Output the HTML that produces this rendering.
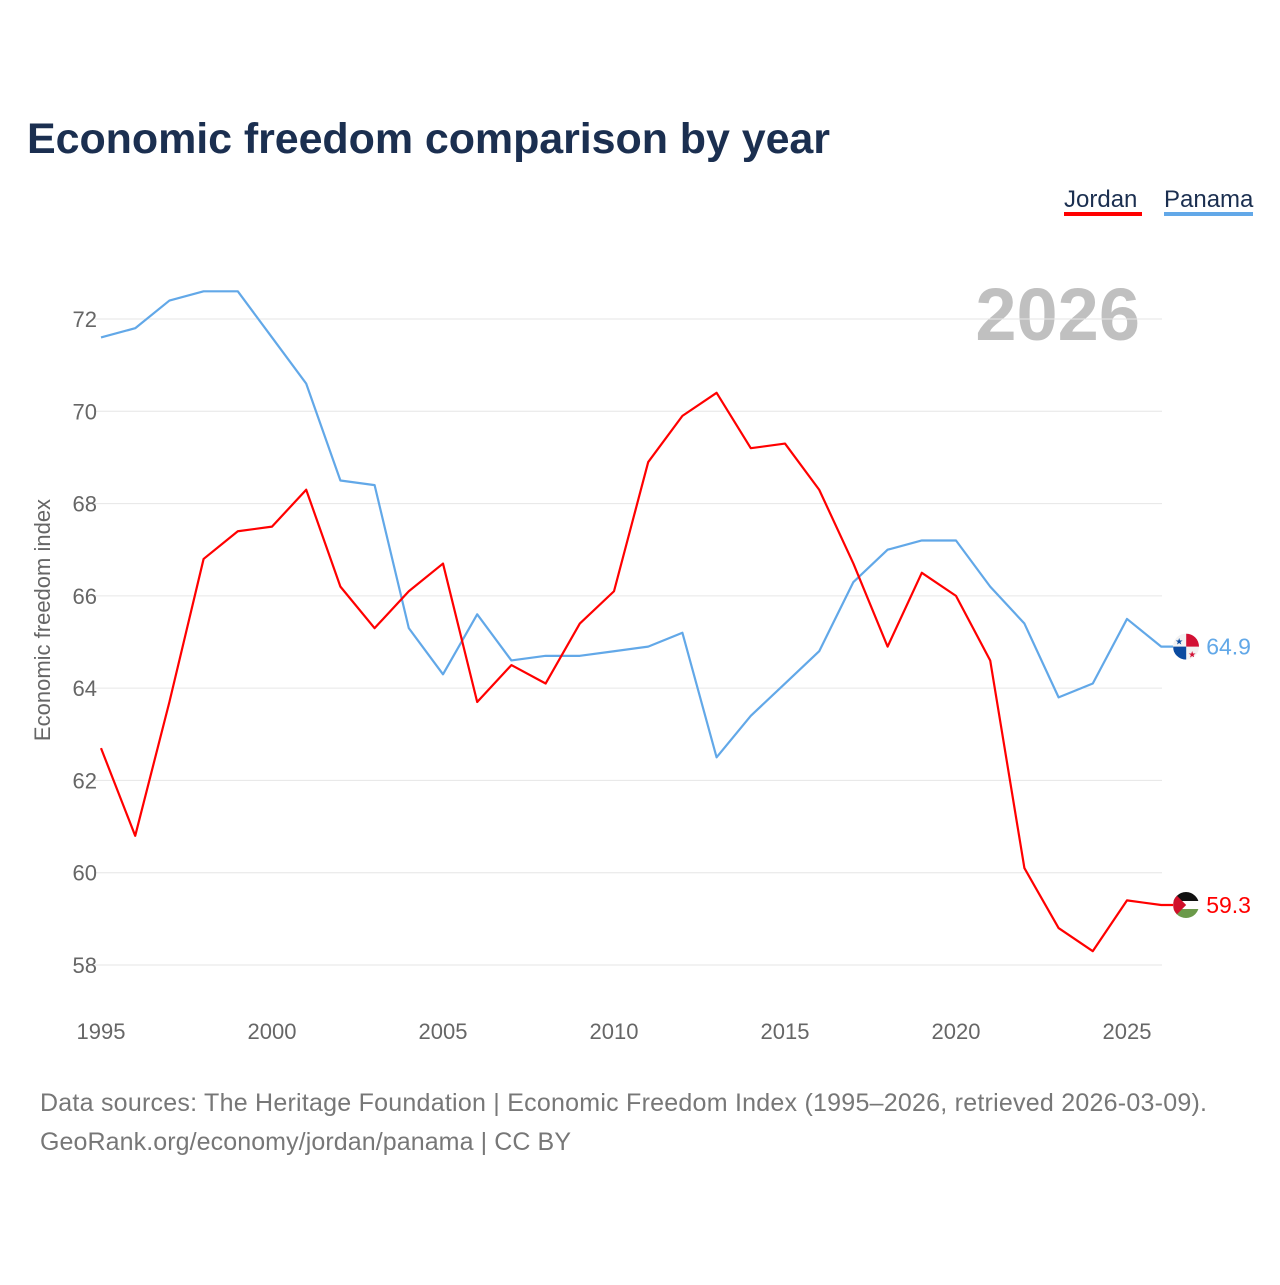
<!DOCTYPE html>
<html><head><meta charset="utf-8"><style>
body{margin:0;background:#fff;font-family:"Liberation Sans",sans-serif;}
</style></head><body>
<svg width="1280" height="1280" xmlns="http://www.w3.org/2000/svg">
<defs><clipPath id="cj"><circle cx="1186" cy="0" r="13"/></clipPath></defs>
<text x="27" y="153" font-size="43" font-weight="bold" fill="#1b2f50" textLength="803">Economic freedom comparison by year</text>
<g>
<text x="1064" y="207" font-size="24" fill="#1b2f50">Jordan</text>
<rect x="1064" y="212" width="78" height="4" fill="#ff0000"/>
<text x="1164" y="207" font-size="24" fill="#1b2f50">Panama</text>
<rect x="1164" y="212" width="89" height="4" fill="#62a8e8"/>
</g>
<text x="1140" y="340" text-anchor="end" font-size="74" font-weight="bold" fill="#c0c0c0">2026</text>
<text transform="translate(50,620) rotate(-90)" text-anchor="middle" font-size="22" fill="#666">Economic freedom index</text>
<g id="grid"></g><g id="lines"></g><g id="labels"></g>
<text x="40" y="1111" font-size="25" fill="#777" textLength="1167">Data sources: The Heritage Foundation | Economic Freedom Index (1995–2026, retrieved 2026-03-09).</text>
<text x="40" y="1150" font-size="25" fill="#777" textLength="531">GeoRank.org/economy/jordan/panama | CC BY</text>
</svg>
<script>
const years=[];for(let y=1995;y<=2026;y++)years.push(y);
const jordan=[62.7,60.8,63.7,66.8,67.4,67.5,68.3,66.2,65.3,66.1,66.7,63.7,64.5,64.1,65.4,66.1,68.9,69.9,70.4,69.2,69.3,68.3,66.7,64.9,66.5,66.0,64.6,60.1,58.8,58.3,59.4,59.3];
const panama=[71.6,71.8,72.4,72.6,72.6,71.6,70.6,68.5,68.4,65.3,64.3,65.6,64.6,64.7,64.7,64.8,64.9,65.2,62.5,63.4,64.1,64.8,66.3,67.0,67.2,67.2,66.2,65.4,63.8,64.1,65.5,64.9];
const yTicks=[58,60,62,64,66,68,70,72];
const xTicks=[1995,2000,2005,2010,2015,2020,2025];
const NS="http://www.w3.org/2000/svg";
const X=y=>101+(y-1995)*(1127-101)/30;
const Y=v=>965-(v-58)*(965-319)/14;
const grid=document.getElementById('grid'),lines=document.getElementById('lines'),labels=document.getElementById('labels');
function mk(tag,attrs,parent,txt){const e=document.createElementNS(NS,tag);for(const k in attrs)e.setAttribute(k,attrs[k]);if(txt!==undefined)e.textContent=txt;parent.appendChild(e);return e;}
yTicks.forEach(t=>{
 const l=mk('line',{x1:95,x2:1162,y1:Y(t),y2:Y(t),stroke:'#e6e6e6','stroke-width':1},grid);
 
 
 const tx=mk('text',{x:97,y:Y(t)+8,'text-anchor':'end','font-size':22,fill:'#666'},grid,t);
 
 
});
xTicks.forEach(t=>{
 const tx=mk('text',{x:X(t),y:1039,'text-anchor':'middle','font-size':22,fill:'#666'},grid,t);
 
 
});
function series(d,col,name){
 const last=d[d.length-1],cx=X(2026)+25,cy=Y(last);
 const pts=d.map((v,i)=>X(years[i])+','+Y(v));pts.push((cx-13)+','+cy);
 const p=mk('polyline',{points:pts.join(' '),fill:'none',stroke:col,'stroke-width':2.2,'stroke-linejoin':'round'},lines);
 
 
 const g=mk('g',{transform:`translate(0,${cy})`,'clip-path':'url(#cj)'},labels);
 
 
 if(name==='jordan'){
  mk('rect',{x:cx-13,y:-13,width:26,height:9,fill:'#111'},g);
  mk('rect',{x:cx-13,y:-4,width:26,height:8,fill:'#fff'},g);
  mk('rect',{x:cx-13,y:4,width:26,height:9,fill:'#6b9a4a'},g);
  mk('path',{d:`M${cx-13} -13 L${cx} 0 L${cx-13} 13Z`,fill:'#d0102a'},g);
 } else {
  mk('rect',{x:cx-13,y:-13,width:26,height:26,fill:'#f2f2f2'},g);
  mk('rect',{x:cx,y:-13,width:13,height:13,fill:'#d21034'},g);
  mk('rect',{x:cx-13,y:0,width:13,height:13,fill:'#0a4aa0'},g);
  mk('text',{x:cx-7,y:-2,'font-size':9,fill:'#0a4aa0','text-anchor':'middle'},g,'★');
  mk('text',{x:cx+6,y:11,'font-size':9,fill:'#d21034','text-anchor':'middle'},g,'★');
 }
 const t=mk('text',{x:cx+20,y:cy+8,'font-size':23,fill:col},labels,last.toFixed(1));
 
 
}
series(panama,'#62a8e8','panama');
series(jordan,'#ff0000','jordan');
</script>
</body></html>
